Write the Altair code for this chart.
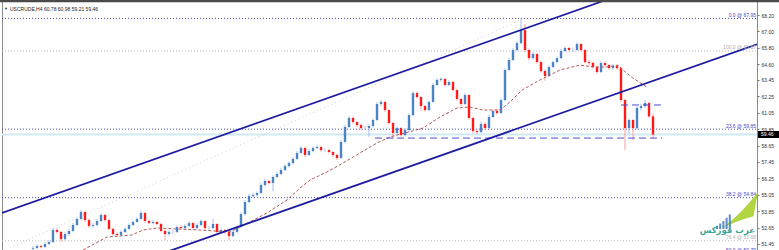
import altair as alt
import pandas as pd

# ---------------- data ----------------
close = [51.16,51.30,51.23,51.45,51.59,52.47,52.33,51.81,52.18,52.40,
52.84,53.28,53.79,53.20,52.77,52.84,53.13,53.57,53.20,52.55,
52.18,52.11,52.33,52.55,52.84,53.06,53.28,53.72,53.13,52.98,
53.06,52.91,52.40,52.18,52.33,52.33,52.69,52.62,52.77,52.98,
52.62,52.84,53.13,52.62,52.62,52.91,52.33,52.47,52.33,52.03,
52.33,52.69,53.64,54.52,54.96,55.03,55.18,55.76,56.06,55.91,
56.35,56.57,56.86,57.15,57.37,57.67,58.11,58.47,57.96,58.25,
58.47,58.54,58.32,58.32,58.18,57.96,57.74,58.91,60.01,60.67,
60.37,60.15,59.93,59.93,60.08,60.52,61.69,61.84,61.25,60.30,
59.57,59.93,59.42,59.79,60.88,62.49,62.20,61.54,61.25,61.84,
63.08,63.45,63.52,63.08,63.30,62.71,62.06,61.69,62.35,60.67,
59.71,59.64,60.23,59.93,60.74,61.18,61.03,61.98,64.18,64.91,
65.64,66.15,67.10,65.64,65.05,65.35,64.76,64.10,63.74,64.40,
64.76,65.05,65.57,65.79,65.64,65.64,66.08,65.64,64.76,64.69,
64.40,64.03,64.69,64.54,64.32,64.47,64.32,61.98,59.93,60.52,
59.93,61.40,61.54,61.76,60.78,59.46]

high = [51.30,51.42,51.40,51.58,51.75,52.62,52.60,52.40,52.30,52.55,
52.98,53.40,53.95,53.88,53.30,53.00,53.25,53.70,53.66,53.28,
52.62,52.30,52.45,52.66,52.95,53.18,53.40,53.90,53.80,53.22,
53.20,53.15,53.00,52.50,52.45,52.48,52.80,52.82,52.90,53.10,
53.05,52.95,53.25,53.20,52.78,53.30,52.98,52.60,52.55,52.40,
52.45,52.80,53.75,54.65,55.10,55.18,55.30,55.90,56.20,56.15,
56.48,56.70,57.00,57.28,57.50,57.80,58.25,58.62,58.55,58.38,
58.60,58.68,58.62,58.45,58.40,58.25,58.05,59.05,60.15,60.80,
60.75,60.45,60.25,60.10,60.20,60.65,61.82,61.98,61.90,61.30,
60.38,60.05,60.00,59.92,61.00,62.62,62.60,62.28,61.62,61.96,
63.20,63.58,63.66,63.60,63.42,63.38,62.80,62.12,62.48,62.42,
60.75,59.85,60.40,60.35,60.88,61.30,61.35,62.10,64.30,65.05,
65.78,66.30,67.95,67.55,65.75,65.48,65.42,64.85,64.20,64.52,
64.88,65.18,65.70,65.92,65.88,65.80,66.20,66.15,65.72,64.90,
64.78,64.50,64.82,64.80,64.62,64.60,64.55,64.40,62.05,60.65,
60.60,61.55,61.70,61.98,61.85,60.98]

low = [51.02,51.08,51.12,51.15,51.38,51.52,52.20,51.60,51.70,52.05,
52.30,52.75,53.20,53.05,52.65,52.65,52.75,53.05,53.10,52.45,
52.05,51.98,52.02,52.25,52.48,52.76,53.00,53.20,53.02,52.88,
52.90,52.80,52.30,51.74,52.05,52.20,52.25,52.50,52.55,52.68,
52.50,52.52,52.76,52.50,52.48,52.55,52.22,52.25,52.20,51.74,
51.95,52.25,52.62,53.55,54.45,54.85,54.95,55.10,55.68,55.80,
55.30,56.25,56.48,56.78,57.05,57.28,57.60,58.02,57.80,57.88,
58.15,58.38,58.20,58.18,58.05,57.85,57.60,57.68,58.85,59.95,
60.25,60.02,59.80,59.80,59.30,59.98,60.45,61.55,61.12,60.20,
59.10,59.45,59.30,59.32,59.70,60.80,62.10,61.20,61.12,61.18,
61.78,63.00,63.30,62.98,63.00,62.60,61.95,61.55,61.60,60.55,
59.55,59.50,59.55,59.80,59.85,60.65,60.90,60.95,61.90,64.10,
64.85,65.55,66.05,65.50,64.90,64.95,64.65,63.98,63.40,63.65,
64.30,64.68,64.98,65.48,65.52,65.50,65.55,65.52,64.65,64.55,
64.28,63.90,63.95,64.42,64.20,64.22,64.20,61.85,58.32,59.50,
59.05,59.85,61.20,61.40,60.70,59.21]

first_open = 51.10

# moving average: bar index, price
ma_i = [12.5,18.5,24.75,27.5,31,41.75,49.25,51.75,58.5,63.5,66.75,69.25,73.5,77.5,
        81.75,86,89.25,97.5,101.75,106,109.25,112.5,116.75,119.25,122.25,126.75,
        131.75,136.75,140,143.5,146.25,147.5,150,153.75]
ma_p = [51.01,51.96,52.11,52.47,52.62,52.47,52.33,52.69,53.72,54.67,55.54,56.13,56.72,57.37,
        58.11,58.84,59.28,59.93,60.74,61.40,61.47,61.25,61.25,61.84,62.71,63.45,
        64.18,64.54,64.40,64.40,64.54,64.18,63.59,62.86]

# channel lines (bar index, price)
upper_i = [-7.75, 143.25]
upper_p = [53.72, 69.30]
lower_i = [-10, 181]
lower_p = [46.40, 66.06]
# faint fib diagonal
diag_i = [-5.75, 121.75]
diag_p = [51.16, 67.83]

# fibonacci levels
fib_price = [67.95, 65.57, 59.85, 54.84, 51.68, 50.79]
fib_label = ["0.0 @ 67.95", "100.0 @ 65.57", "23.6 @ 59.85", "38.2 @ 54.84", "76.4 @ 51.68", "50.0 @ 50.79"]
fib_kind = ["blue", "gray", "blue", "blue", "gray", "blue"]

# dashed support / resistance
sr_start = [85.5, 147]
sr_end = [157.25, 157.25]
sr_price = [59.20, 61.62]

last_price = 59.46
axis_values = [68.20, 67.00, 65.80, 64.60, 63.45, 62.25, 61.05, 59.85, 58.65,
               57.45, 56.25, 55.05, 53.85, 52.65, 51.45]
title_text = "USCRUDE,H4  60.78 60.98 59.21 59.46"

# ---------------- build ----------------
opens = [first_open] + close[:-1]
df = pd.DataFrame({"i": list(range(len(close))), "open": opens, "high": high,
                   "low": low, "close": close})

xs = alt.Scale(domain=[-7.75, 181], nice=False, zero=False)
ys = alt.Scale(domain=[51.01, 69.30], nice=False, zero=False)
yaxis = alt.Axis(
    orient="right", values=axis_values, format=".2f", labelFontSize=5,
    labelFont="Liberation Sans", labelColor="#333", tickSize=2, tickColor="#777",
    domain=False, grid=False, title=None, labelPadding=2, labelOverlap=False,
    labelBound=False)
X = lambda f: alt.X(f, type="quantitative", scale=xs, axis=None)
Y = lambda f: alt.Y(f, type="quantitative", scale=ys, axis=yaxis)

up = "datum.close >= datum.open"

wicks = alt.Chart(df).mark_rule(strokeWidth=1).encode(
    x=X("i"), y=Y("low"), y2="high:Q",
    color=alt.condition(up, alt.value("#9cc0e2"), alt.value("#ff9d9d")),
)
bodies = alt.Chart(df).mark_rule(strokeWidth=2.4).encode(
    x=X("i"), y=Y("open"), y2="close:Q",
    color=alt.condition(up, alt.value("#4a84c4"), alt.value("#ff1a1a")),
)

fib = pd.DataFrame({"p": fib_price, "label": fib_label, "kind": fib_kind})
is_blue = "datum.kind == 'blue'"
fib_lines = alt.Chart(fib).mark_rule(strokeWidth=1, strokeDash=[1, 2]).encode(
    x=alt.value(0), x2=alt.value(755), y=Y("p"),
    color=alt.condition(is_blue, alt.value("#4848c0"), alt.value("#b8b8b8")),
)
fib_text = alt.Chart(fib).mark_text(align="right", baseline="bottom", fontSize=5,
                                    font="Liberation Sans", dy=-0.5).encode(
    x=alt.value(754), y=Y("p"), text="label:N",
    color=alt.condition(is_blue, alt.value("#4848c0"), alt.value("#b0b0b0")),
)

bid = alt.Chart(pd.DataFrame({"p": [last_price]})).mark_rule(
    strokeWidth=2, color="#cfe9f3").encode(x=alt.value(0), x2=alt.value(755), y=Y("p"))

diag = alt.Chart(pd.DataFrame({"i": diag_i, "p": diag_p})).mark_line(
    strokeWidth=1, strokeDash=[1, 3], color="#d0d0d0", clip=True).encode(x=X("i"), y=Y("p"))

sr = pd.DataFrame({"a": sr_start, "b": sr_end, "p": sr_price})
sr_lines = alt.Chart(sr).mark_rule(strokeWidth=1, strokeDash=[7, 4], color="#4c4cd0").encode(
    x=X("a"), x2="b:Q", y=Y("p"))

ma = alt.Chart(pd.DataFrame({"i": ma_i, "p": ma_p})).mark_line(
    strokeWidth=1, strokeDash=[3, 2], color="#b35a5a", clip=True).encode(x=X("i"), y=Y("p"))

upper = alt.Chart(pd.DataFrame({"i": upper_i, "p": upper_p})).mark_line(
    strokeWidth=1.8, color="#1c1ca0", clip=True).encode(x=X("i"), y=Y("p"))
lower = alt.Chart(pd.DataFrame({"i": lower_i, "p": lower_p})).mark_line(
    strokeWidth=1.8, color="#1c1ca0", clip=True).encode(x=X("i"), y=Y("p"))

box = alt.Chart(pd.DataFrame({"p": [last_price]})).mark_rule(
    strokeWidth=7, color="#000").encode(x=alt.value(756), x2=alt.value(777), y=Y("p"))
box_text = alt.Chart(pd.DataFrame({"p": [last_price], "t": ["59.46"]})).mark_text(
    align="left", baseline="middle", fontSize=5, font="Liberation Sans", color="#fff").encode(
    x=alt.value(759), y=Y("p"), text="t:N")

topbar = alt.Chart(pd.DataFrame({"v": [0]})).mark_rule(strokeWidth=2.5, color="#4a4a4a").encode(
    x=alt.value(-2), x2=alt.value(777), y=alt.value(1))

title = alt.Chart(pd.DataFrame({"t": [title_text]})).mark_text(
    align="left", baseline="middle", fontSize=5, font="Liberation Sans", color="#222").encode(
    x=alt.value(8), y=alt.value(8.5), text="t:N")
tri = alt.Chart(pd.DataFrame({"t": ["\u25bc"]})).mark_text(
    align="left", baseline="middle", fontSize=4, color="#222").encode(
    x=alt.value(2), y=alt.value(8.5), text="t:N")

logo_swoosh = alt.Chart(pd.DataFrame({"v": [0]})).mark_point(
    shape="M -1 1 Q 0 0.3 1 -1 L 0.75 0.35 Q 0.1 0.5 -1 1 Z", filled=True,
    color="#a9d12c", opacity=0.9, size=1300).encode(x=alt.value(738), y=alt.value(210))
logo_bars = alt.Chart(pd.DataFrame({"v": [0]})).mark_point(
    shape="M -1 1 L -1 0.6 L -0.75 0.6 L -0.75 1 Z M -0.6 1 L -0.6 0.3 L -0.35 0.3 L -0.35 1 Z "
          "M -0.2 1 L -0.2 0 L 0.05 0 L 0.05 1 Z M 0.2 1 L 0.2 -0.4 L 0.45 -0.4 L 0.45 1 Z "
          "M 0.6 1 L 0.6 -0.8 L 0.85 -0.8 L 0.85 1 Z",
    filled=True, color="#3b78b8", opacity=0.85, size=256).encode(x=alt.value(722), y=alt.value(221))
logo_text = alt.Chart(pd.DataFrame({"t": ["عرب فوركس"]})).mark_text(
    align="right", baseline="middle", fontSize=8.5, font="DejaVu Sans", fontWeight="bold",
    color="#2a9d8f", opacity=0.9).encode(x=alt.value(753), y=alt.value(230), text="t:N")

chart = alt.layer(
    bid, fib_lines, diag, wicks, bodies, ma, sr_lines, upper, lower, fib_text,
    logo_swoosh, logo_bars, logo_text, box, box_text, topbar, title, tri,
).properties(
    width=755, height=250,
    autosize=alt.AutoSizeParams(type="none"),
    padding={"left": 2, "right": 22, "top": 0, "bottom": 0},
    background="#ffffff",
).configure_view(stroke="#8a8a8a", strokeWidth=1)

chart.save("out.html", embed_options={"renderer": "svg", "actions": False})
